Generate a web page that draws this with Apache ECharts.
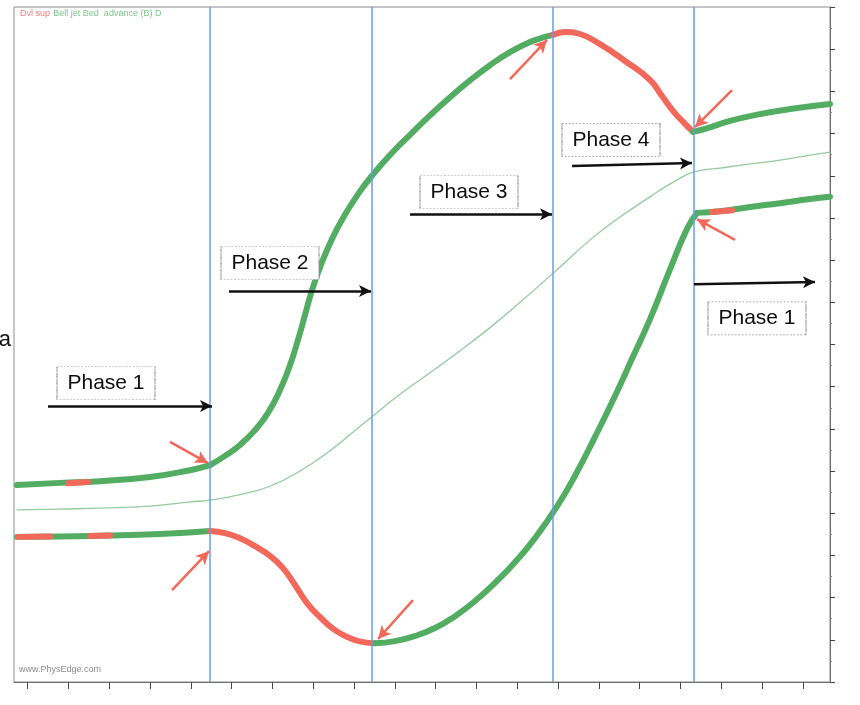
<!DOCTYPE html>
<html>
<head>
<meta charset="utf-8">
<script src="https://cdn.jsdelivr.net/npm/echarts@6/dist/echarts.min.js"></script>
<style>
  html, body { margin: 0; padding: 0; background: #fff; }
  #chart { width: 860px; height: 705px; }
</style>
</head>
<body>
<div id="chart"></div>
<script>
// x: time in ms from the start of the trace, y: pressure in axis units (0-160)

// phase boundaries (vertical markers)
const phaseBoundaries = [196, 358, 539, 680];

// upper thick trace, one array per phase
const upperFilling = [[3, 46.7], [46, 47.2], [86, 47.6], [136, 48.6], [176, 50.2], [196, 51.4]];
const upperRise = [[196, 51.4], [211, 53.6], [226, 56.2], [241, 59.7], [254, 63.8], [266, 69.2], [276, 75.1],
  [284, 81.1], [291, 87.0], [298, 92.9], [308, 99.5], [319, 105.5], [331, 110.8], [346, 116.3],
  [358, 120.0], [376, 124.9], [396, 129.7], [416, 134.3], [436, 138.6], [456, 142.6], [476, 146.2],
  [496, 149.3], [516, 151.7], [531, 152.9], [539, 153.4]];
const upperFall = [[539, 153.4], [551, 154.1], [566, 153.6], [586, 151.2], [611, 147.2], [636, 142.7],
  [648, 138.9], [660, 135.1], [671, 132.3], [679, 130.4]];
const upperRefill = [[679, 130.4], [691, 131.1], [716, 133.0], [746, 134.6], [776, 135.8], [816, 137.0]];

// lower thick trace, one array per phase
const lowerFilling = [[3, 34.4], [46, 34.5], [96, 34.7], [146, 35.1], [196, 35.8]];
const lowerFall = [[196, 35.8], [211, 35.3], [226, 34.1], [241, 32.2], [256, 29.9], [269, 27.0], [281, 23.0],
  [293, 18.7], [306, 15.4], [321, 12.3], [336, 10.4], [348, 9.5], [361, 9.2]];
const lowerRise = [[361, 9.2], [381, 9.7], [401, 10.9], [421, 12.8], [441, 15.6], [461, 19.2], [481, 23.5],
  [501, 28.4], [521, 34.1], [543, 41.6], [561, 48.9], [581, 58.1], [601, 67.8], [618, 76.6],
  [636, 86.0], [656, 97.8], [673, 107.4], [683, 111.2]];
const lowerRefill = [[683, 111.2], [706, 111.6], [736, 112.6], [766, 113.5], [796, 114.5], [816, 115.0]];

// thin middle trace
const midTrace = [[3, 40.8], [46, 41.0], [86, 41.2], [136, 41.7], [176, 42.7], [196, 43.1], [226, 44.4],
  [256, 46.4], [286, 50.0], [316, 54.8], [341, 59.6], [358, 62.9], [386, 68.2], [416, 73.3],
  [446, 78.5], [476, 84.0], [506, 90.0], [543, 97.7], [576, 104.8], [606, 110.2], [636, 115.0],
  [658, 118.3], [680, 120.9], [706, 121.8], [736, 122.8], [766, 123.7], [796, 124.9], [816, 125.6]];

// short red dashes sitting on the flat parts of the thick traces
const redDashes = [
  [[54, 47.1], [74, 47.4]],
  [[4, 34.4], [36, 34.5]],
  [[76, 34.6], [96, 34.7]],
  [[698, 111.4], [718, 111.8]]
];

// phase captions and their arrows
const phaseNames = ['Phase 1', 'Phase 2', 'Phase 3', 'Phase 4', 'Phase 1'];
const phaseLabelPos = [[92, 70.8], [256, 99.3], [455, 116.1], [597, 128.5], [743, 86.2]];
const phaseArrows = [
  [[34, 65.4], [198, 65.4]],
  [[215, 92.7], [357, 92.7]],
  [[396, 110.9], [538, 110.9]],
  [[558, 122.3], [678, 123.0]],
  [[680, 94.3], [801, 94.8]]
];

// red pointers at the valve events (tail -> head)
const eventPointers = [
  [[156, 56.9], [194, 51.9]],
  [[158, 21.8], [195, 31.0]],
  [[399, 19.4], [364, 10.2]],
  [[496, 142.9], [533, 152.2]],
  [[718, 140.3], [681, 131.5]],
  [[721, 104.8], [683, 109.7]]
];

// slots for the bottom tick marks
const tickSlots = Array.from({ length: 61 }, (_, i) => String(i));

const GREEN = '#52ad62';
const RED = '#f2685a';
const THIN = '#93cb9d';
const BLUE = '#6a9cea';

function trace(data, color, width) {
  return {
    type: 'line', data: data, smooth: 0.5, showSymbol: false, symbol: 'none',
    xAxisIndex: 0, yAxisIndex: 0,
    lineStyle: { color: color, width: width, cap: 'round', join: 'round' },
    silent: true, z: 3
  };
}

function arrowSeries(pairs, color, width, size) {
  return {
    type: 'line', data: [], xAxisIndex: 0, yAxisIndex: 0, silent: true, z: 6,
    markLine: {
      silent: true, animation: false,
      symbol: ['none', 'arrow'], symbolSize: size,
      label: { show: false },
      lineStyle: { color: color, width: width, type: 'solid' },
      emphasis: { disabled: true },
      data: pairs.map(p => [{ coord: p[0] }, { coord: p[1] }])
    }
  };
}

const series = [
  {
    type: 'line', data: [], xAxisIndex: 0, yAxisIndex: 0, silent: true, z: 1,
    markLine: {
      silent: true, animation: false, symbol: ['none', 'none'],
      label: { show: false },
      lineStyle: { color: BLUE, width: 1.5, type: 'solid' },
      emphasis: { disabled: true },
      data: phaseBoundaries.map(v => ({ xAxis: v }))
    }
  },
  trace(midTrace, THIN, 1.3),
  trace(upperFilling, GREEN, 6),
  trace(upperRise, GREEN, 6),
  trace(upperFall, RED, 6),
  trace(upperRefill, GREEN, 6),
  trace(lowerFilling, GREEN, 6),
  trace(lowerFall, RED, 6),
  trace(lowerRise, GREEN, 6),
  trace(lowerRefill, GREEN, 6)
];
redDashes.forEach(d => series.push(Object.assign(trace(d, RED, 6), { smooth: false, z: 4 })));

series.push({
  type: 'scatter', xAxisIndex: 0, yAxisIndex: 0, silent: true, z: 5,
  symbol: 'rect', symbolSize: [98, 33],
  itemStyle: { color: '#ffffff', borderColor: '#8d8d8d', borderWidth: 1, borderType: 'dotted', opacity: 1 },
  label: {
    show: true, position: 'inside', formatter: '{b}',
    color: '#0d0d0d', fontSize: 21, fontFamily: 'Liberation Sans, Arial, sans-serif'
  },
  data: phaseLabelPos.map((p, i) => ({ name: phaseNames[i], value: p }))
});
series.push(arrowSeries(phaseArrows, '#111111', 2.5, [9, 12]));
series.push(arrowSeries(eventPointers, RED, 2.5, [10, 13]));

const chart = echarts.init(document.getElementById('chart'), null, { renderer: 'canvas' });
chart.setOption({
  animation: false,
  backgroundColor: '#ffffff',
  grid: {
    left: 14, right: 30, top: 7, bottom: 23,
    show: true, borderColor: '#8c8c8c', borderWidth: 1, backgroundColor: 'transparent'
  },
  xAxis: [
    {
      type: 'value', min: 0, max: 816, show: false
    },
    {
      type: 'category', data: tickSlots, boundaryGap: false, position: 'bottom',
      axisLine: { show: true, onZero: false, lineStyle: { color: '#6f6f6f', width: 1 } },
      axisTick: {
        show: true, length: 7, inside: false,
        interval: function (index) { return index % 3 === 1; },
        lineStyle: { color: '#444', width: 1 }
      },
      axisLabel: { show: false },
      splitLine: { show: false }
    }
  ],
  yAxis: [
    {
      type: 'value', min: 0, max: 160, interval: 10, position: 'right',
      axisLine: { show: true, onZero: false, lineStyle: { color: '#6f6f6f', width: 1 } },
      axisTick: { show: true, inside: false, length: 5, lineStyle: { color: '#444' } },
      minorTick: { show: true, splitNumber: 2, length: 2, lineStyle: { color: '#888' } },
      axisLabel: { show: false },
      splitLine: { show: false }
    }
  ],
  graphic: [
    {
      type: 'text', left: 20, top: 8, silent: true,
      style: {
        text: '{r|Dvl sup} {g|Bell jet Bed  advance (B) D}',
        rich: {
          r: { fill: '#f07a78', fontSize: 9, fontFamily: 'Liberation Sans, Arial, sans-serif' },
          g: { fill: '#7cc48a', fontSize: 9, fontFamily: 'Liberation Sans, Arial, sans-serif' }
        }
      }
    },
    {
      type: 'text', left: 19, top: 665, silent: true,
      style: { text: 'www.PhysEdge.com', fill: '#8a8a8a', fontSize: 9, fontFamily: 'Liberation Sans, Arial, sans-serif' }
    },
    {
      type: 'text', silent: true,
      style: {
        text: 'a', x: 11, y: 340, align: 'right', verticalAlign: 'middle',
        fill: '#111', fontSize: 22, fontFamily: 'Liberation Sans, Arial, sans-serif'
      }
    }
  ],
  series: series
});
</script>
</body>
</html>
